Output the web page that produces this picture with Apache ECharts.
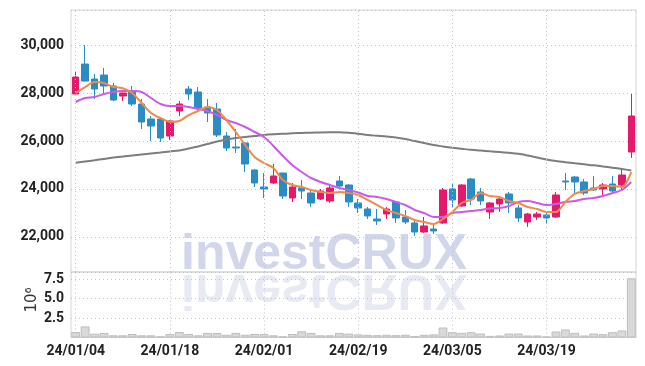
<!DOCTYPE html>
<html><head><meta charset="utf-8">
<script src="https://cdn.jsdelivr.net/npm/echarts@6/dist/echarts.min.js"></script>
<style>html,body{margin:0;padding:0;background:#fff}#c{width:645px;height:366px}</style>
</head><body><div id="c"></div>
<script>
const dates = [
 '24/01/04','24/01/05','24/01/08','24/01/09','24/01/10','24/01/11','24/01/12','24/01/15','24/01/16','24/01/17',
 '24/01/18','24/01/19','24/01/22','24/01/23','24/01/24','24/01/25','24/01/26','24/01/29','24/01/30','24/01/31',
 '24/02/01','24/02/02','24/02/05','24/02/06','24/02/07','24/02/08','24/02/13','24/02/14','24/02/15','24/02/16',
 '24/02/19','24/02/20','24/02/21','24/02/22','24/02/23','24/02/26','24/02/27','24/02/28','24/02/29','24/03/04',
 '24/03/05','24/03/06','24/03/07','24/03/08','24/03/11','24/03/12','24/03/13','24/03/14','24/03/15','24/03/18',
 '24/03/19','24/03/20','24/03/21','24/03/22','24/03/25','24/03/26','24/03/27','24/03/28','24/03/29','24/04/01'];
const opens = [27958,29208,28583,28750,28292,27875,28042,27542,26917,26917,
 26208,27250,28167,28042,27417,27333,26208,25750,25917,24792,
 24083,24250,24667,23625,24042,23833,23583,23500,24333,24167,
 23417,23167,22750,22958,23458,22833,22583,22208,22333,22583,
 24000,23292,24417,23875,23042,23375,23792,23208,22625,22833,
 22917,22833,24333,24500,24292,24042,24000,24208,24167,25542];
const closes = [28667,28500,28167,28292,27708,28000,27542,26792,26625,26125,
 26833,27542,27958,27375,27167,26250,25708,25708,25042,24250,
 24000,24542,23708,24083,23917,23417,23917,24042,24125,23458,
 23208,22875,22667,23167,22792,22625,22208,22458,22250,23958,
 23542,24167,23583,23500,23417,23583,23417,22792,22958,22958,
 22792,23750,24292,24292,23833,23958,24167,23917,24583,27042];
const lows = [27958,28480,27750,28000,27667,27667,27458,26500,26000,25958,
 26042,27042,27708,27250,26792,26167,25583,25500,24708,24083,
 23625,24208,23583,23458,23583,23250,23542,23417,24042,23250,
 23000,22750,22500,22750,22583,22542,22042,22167,22125,22542,
 23250,23250,23333,23333,22750,23042,23000,22625,22417,22708,
 22542,22792,23958,23833,23750,23917,23708,23875,23958,25292];
const highs = [28917,30000,28792,29042,28417,28020,28292,27750,27042,27000,
 26875,27667,28292,28250,27750,27583,26375,26500,25958,24820,
 24667,25042,24667,24250,24375,24000,24000,24167,24542,24200,
 23583,23250,23167,23250,23500,23125,22708,22833,22542,24042,
 24208,24208,24458,24042,23458,23667,23875,23333,23000,23042,
 23042,23875,24667,24542,24417,24542,24250,24542,24833,27958];
const ma5 = [28000,28250,28458,28417,28250,28200,28000,27583,27167,26958,
 26800,26833,27083,27250,27417,27292,26875,26375,25833,25333,
 25083,24875,24375,24167,24083,23958,23875,23833,23875,23833,
 23750,23542,23333,23125,23000,22875,22708,22625,22542,22750,
 23042,23417,23542,23833,23708,23667,23500,23417,23250,23167,
 23042,23042,23458,23792,23917,24000,24125,24125,24083,24708];
const ma20 = [27625,27792,27833,27958,28042,28083,28083,28042,27792,27542,
 27458,27458,27417,27333,27250,27083,26875,26750,26583,26375,
 26167,25792,25375,25000,24708,24458,24292,24167,24042,23958,
 23854,23708,23667,23583,23458,23333,23125,23000,22833,22833,
 23000,23042,23083,23125,23188,23208,23292,23458,23500,23417,
 23333,23375,23458,23500,23583,23625,23708,23833,23958,24292];
const ma60 = [25096,25146,25196,25254,25308,25354,25400,25442,25483,25521,
 25567,25604,25688,25771,25875,25979,26063,26125,26167,26208,
 26250,26279,26300,26321,26333,26346,26358,26363,26363,26342,
 26300,26250,26217,26187,26146,26083,26000,25917,25833,25771,
 25717,25675,25633,25604,25571,25542,25508,25467,25396,25313,
 25229,25167,25117,25071,25029,24988,24938,24888,24833,24771];
const volumesM = [0.70,1.42,0.49,0.58,0.28,0.28,0.45,0.28,0.28,0.15,
 0.45,0.70,0.45,0.28,0.58,0.58,0.35,0.58,0.35,0.45,
 0.45,0.28,0.15,0.45,0.80,0.58,0.28,0.28,0.58,0.50,
 0.40,0.35,0.30,0.35,0.30,0.35,0.20,0.35,0.40,1.28,
 0.68,0.60,0.68,0.51,0.21,0.26,0.51,0.51,0.26,0.26,
 0.13,0.77,1.03,0.60,0.26,0.51,0.43,0.68,0.90,7.59];
const gridDateIdx = [0,10,20,30,40,50];

const FONT = "Roboto,'Liberation Sans',sans-serif";
const GRIDC = '#bcc1da';
const candles = opens.map((o,i)=>[o, closes[i], lows[i], highs[i]]);
const vMarks = gridDateIdx.map(i=>({xAxis: dates[i]}));
const markCfg = {silent:true, symbol:'none', label:{show:false}, animation:false,
  lineStyle:{type:[1,3], color:GRIDC, width:1}, data:vMarks};
const labelStyle = {fontFamily:FONT, fontSize:14, fontWeight:'bold', color:'#222', margin:7};

const chart = echarts.init(document.getElementById('c'), null, {renderer:'canvas'});
chart.setOption({
  animation:false,
  backgroundColor:'#fff',
  graphic:[
    {type:'text', x:181, y:255, z:0, silent:true,
     style:{text:'investCRUX', font:"bold 50px 'Liberation Sans', Arial, sans-serif", fill:'#d1d6ea', textVerticalAlign:'middle'}},
    {type:'text', x:181, y:289, scaleY:-1, z:0, silent:true,
     style:{text:'investCRUX', font:"bold 50px 'Liberation Sans', Arial, sans-serif", fill:'#e7e9f3', textVerticalAlign:'middle'}},
    {type:'text', x:32, y:300, rotation:Math.PI/2, z:5, silent:true,
     style:{text:'10\u2076', font:"15px 'DejaVu Sans', sans-serif", fill:'#333', textAlign:'center', textVerticalAlign:'middle'}}
  ],
  grid:[
    {left:71, right:9, top:10, height:262, show:true, borderColor:'#d3d3d3', borderWidth:1},
    {left:71, right:9, top:272, height:65.5, show:true, borderColor:'#d3d3d3', borderWidth:1}
  ],
  xAxis:[
    {type:'category', gridIndex:0, data:dates, boundaryGap:true,
     axisLine:{show:false}, axisTick:{show:false}, axisLabel:{show:false}, splitLine:{show:false}},
    {type:'category', gridIndex:1, data:dates, boundaryGap:true,
     axisLine:{show:false}, axisTick:{show:false}, splitLine:{show:false},
     axisLabel:Object.assign({interval:9}, labelStyle, {margin:7})}
  ],
  yAxis:[
    {type:'value', gridIndex:0, min:20540, max:31460, splitNumber:5,
     axisLine:{show:false}, axisTick:{show:false},
     axisLabel:Object.assign({showMinLabel:false, showMaxLabel:false}, labelStyle),
     splitLine:{lineStyle:{type:[1,3], color:GRIDC}}},
    {type:'value', gridIndex:1, min:0, max:8.4, interval:2.5,
     axisLine:{show:false}, axisTick:{show:false},
     axisLabel:Object.assign({showMinLabel:false, showMaxLabel:false, formatter:v=>v.toFixed(1)}, labelStyle),
     splitLine:{lineStyle:{type:[1,3], color:GRIDC}}}
  ],
  series:[
    {type:'candlestick', xAxisIndex:0, yAxisIndex:0, data:candles, barWidth:7,
     itemStyle:{color:'#e5196b', color0:'#2b8cc4', borderColor:'#e5196b', borderColor0:'#2b8cc4', borderWidth:1},
     markLine:markCfg},
    {type:'line', xAxisIndex:0, yAxisIndex:0, data:ma60, symbol:'none', smooth:0.3,
     lineStyle:{color:'#7d7d7d', width:2}},
    {type:'line', xAxisIndex:0, yAxisIndex:0, data:ma20, symbol:'none', smooth:0.3,
     lineStyle:{color:'#c95be8', width:2}},
    {type:'line', xAxisIndex:0, yAxisIndex:0, data:ma5, symbol:'none', smooth:0.3,
     lineStyle:{color:'#f08a4b', width:2}},
    {type:'bar', xAxisIndex:1, yAxisIndex:1, data:volumesM, barCategoryGap:'6%',
     itemStyle:{color:'#d9d9d9', borderColor:'#bdbdbd', borderWidth:1},
     markLine:markCfg}
  ]
});
</script></body></html>
